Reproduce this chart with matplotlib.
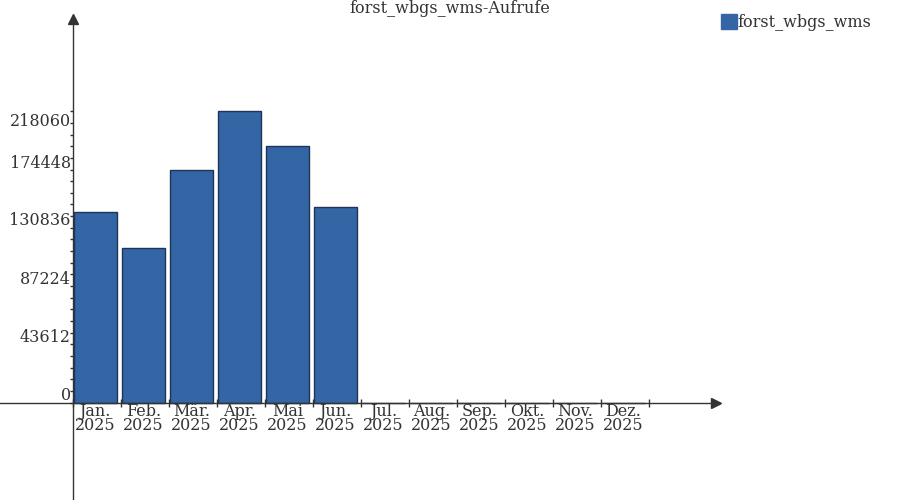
import matplotlib
matplotlib.use("Agg")
import matplotlib.pyplot as plt
from matplotlib.transforms import ScaledTranslation

# data
months = ["Jan.", "Feb.", "Mär.", "Apr.", "Mai", "Jun.",
          "Jul.", "Aug.", "Sep.", "Okt.", "Nov.", "Dez."]
year = "2025"
calls = [142900, 115500, 173900, 218060, 191800, 146200, 0, 0, 0, 0, 0, 0]
series_name = "forst_wbgs_wms"
title = "forst_wbgs_wms-Aufrufe"

ymax = max(calls)
yticks = [ymax * i / 5 for i in range(6)]
ytick_labels = [str(int(round(v))) for v in yticks]

TXT = "#333333"
BAR = "#3465a4"
EDGE = "#1d3557"
plt.rcParams["font.family"] = ["DejaVu Serif"]

fig = plt.figure(figsize=(9, 5), dpi=100)
ax = fig.add_axes([0, 0, 1, 1])

# pixel layout: x=0 at px 72.5, one month = 48 px; y=0 at px 402.5, ymax at px 111.3
x0, y0 = 72.5, 402.5
xpx, ypx = 48.0, 291.2 / ymax
ax.set_xlim(-x0 / xpx, (900 - x0) / xpx)
ax.set_ylim(-(500 - y0) / ypx, y0 / ypx)

xs = [i + 0.48 for i in range(len(months))]
ax.bar(xs, calls, width=0.9, color=BAR, edgecolor=EDGE, linewidth=1,
       label=series_name, zorder=3)

for side in ("top", "right"):
    ax.spines[side].set_visible(False)
ax.spines["left"].set_position(("data", 0))
ax.spines["bottom"].set_position(("data", 0))
ax.spines["left"].set_bounds(-(500 - y0) / ypx, (y0 - 20) / ypx)
ax.spines["bottom"].set_bounds(-x0 / xpx, (712 - x0) / xpx)
for s in ("left", "bottom"):
    ax.spines[s].set_color(TXT)
    ax.spines[s].set_linewidth(1)
    ax.spines[s].set_zorder(4)

# arrow heads
ax.plot([0], [(y0 - 19) / ypx], marker="^", color=TXT, markersize=7,
        clip_on=False, zorder=5)
ax.plot([(716 - x0) / xpx], [0], marker=">", color=TXT, markersize=7,
        clip_on=False, zorder=5)

# y ticks
ax.set_yticks(yticks, ytick_labels)
ax.set_yticks([ymax * i / 25 for i in range(26)], minor=True)
ax.tick_params(axis="y", which="both", direction="out", length=2.5,
               width=1, color=TXT, labelsize=11.5, labelcolor=TXT, pad=-1.2)
offsets = [9, 9, 9, 9, 8, -8]
for lab, dy in zip(ax.get_yticklabels(), offsets):
    lab.set_transform(lab.get_transform() +
                      ScaledTranslation(0, dy / 100, fig.dpi_scale_trans))

# x ticks: boundaries as ticks, labels at centres
ax.set_xticks(range(len(months) + 1), [""] * (len(months) + 1))
ax.set_xticks(xs, [m + "\n" + year for m in months], minor=True)
ax.tick_params(axis="x", which="major", direction="inout", length=6,
               width=1, color=TXT)
ax.tick_params(axis="x", which="minor", length=0, labelsize=11.5,
               labelcolor=TXT, pad=0.5)
for lab in ax.get_xticklabels(minor=True):
    lab.set_linespacing(0.78)

fig.text(0.5, 1 - 8.5 / 500, title, ha="center", va="center",
         fontsize=11.5, color=TXT)

fig.legend(loc="upper left", bbox_to_anchor=(721 / 900, 1 - 14 / 500),
           frameon=False, handlelength=1.0, handleheight=1.0,
           handletextpad=0.05, borderpad=0, borderaxespad=0,
           prop={"size": 11.5}, labelcolor=TXT)
leg = fig.legends[0]
for h in leg.legend_handles:
    h.set_edgecolor(BAR)

fig.savefig("out.png", dpi=100)
